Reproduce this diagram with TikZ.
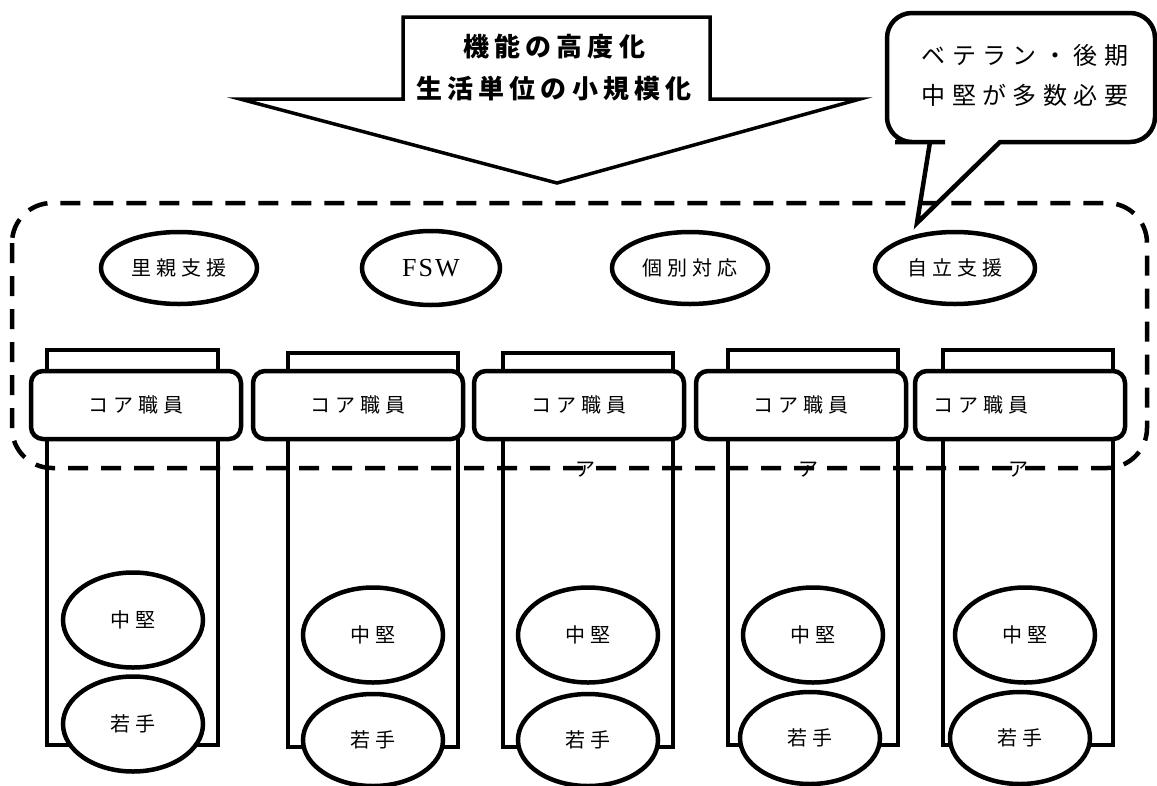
\documentclass[tikz,border=0pt]{standalone}
\usepackage{fontspec}
\setmainfont{Liberation Serif}
\newfontfamily\cjk{Noto Sans CJK JP}
\usetikzlibrary{shapes.geometric}
\tikzset{
  thick outline/.style={line width=4.5pt},
  jp/.style={font=\cjk\fontsize{20}{24}\selectfont\addfontfeatures{LetterSpace=25}},
  core/.style={draw, thick outline, rounded corners=12pt, fill=white, minimum width=210pt, minimum height=68pt, inner sep=0pt, jp},
  oval/.style={ellipse, draw, thick outline, fill=white, inner sep=0pt, jp},
  colbox/.style={draw, thick outline, fill=white},
  bigarrow/.style={draw, line width=3.5pt, fill=white},
  callout/.style={draw, line width=4.5pt, fill=white},
  region/.style={draw, line width=4.5pt, dash pattern=on 20pt off 13pt, rounded corners=40pt},
}
\begin{document}
\begin{tikzpicture}[x=1pt,y=-1pt]
\useasboundingbox (0,0) rectangle (1157,785);
% big arrow
\coordinate (atl) at (403,17);
\coordinate (atr) at (710,17);
\coordinate (asr) at (710,99);
\coordinate (awr) at (860,99);
\coordinate (ap) at (557,183);
\coordinate (awl) at (240,99);
\coordinate (asl) at (403,99);
\draw[bigarrow] (atl) -- (atr) -- (asr) -- (awr) -- (ap) -- (awl) -- (asl) -- cycle;
\node[align=center, font=\cjk\bfseries\fontsize{26}{42}\selectfont\addfontfeatures{LetterSpace=20}] (atext) at (554,68) {機能の高度化\\生活単位の小規模化};
% callout
\coordinate (ctip) at (917,223);
\draw[callout] (ctip) -- (1000,142) -- (1010,142) [rounded corners=25pt] -- (1155,142) -- (1155,13) -- (887,13) -- (887,142) -- (920,142) [sharp corners] -- (930,142) -- cycle;
\node[align=center, font=\cjk\fontsize{24}{40}\selectfont\addfontfeatures{LetterSpace=27}] (ctext) at (1025,75) {ベテラン・後期\\中堅が多数必要};
% columns
\draw[colbox] (47,350) rectangle (218,745);
\draw[colbox] (288,353) rectangle (458,747);
\draw[colbox] (503,353) rectangle (673,747);
\draw[colbox] (728,350) rectangle (898,745);
\draw[colbox] (943,350) rectangle (1113,745);
% core boxes
\node[core] (c1) at (136,405) {コア職員};
\node[core] (c2) at (358,405) {コア職員};
\node[core] (c3) at (579,405) {コア職員};
\node[core] (c4) at (801,405) {コア職員};
\node[core, text width=190pt, align=left] (c5) at (1020,405) {\hspace*{8pt}コア職員};
% bottom ovals
\node[oval, minimum width=140pt, minimum height=95pt] (m1) at (133,620) {中堅};
\node[oval, minimum width=140pt, minimum height=95pt] (y1) at (133,724) {若手};
\node[oval, minimum width=140pt, minimum height=95pt] (m2) at (373,635) {中堅};
\node[oval, minimum width=140pt, minimum height=92pt] (y2) at (373,740) {若手};
\node[oval, minimum width=140pt, minimum height=95pt] (m3) at (588,635) {中堅};
\node[oval, minimum width=140pt, minimum height=92pt] (y3) at (588,740) {若手};
\node[oval, minimum width=140pt, minimum height=95pt] (m4) at (813,635) {中堅};
\node[oval, minimum width=140pt, minimum height=92pt] (y4) at (810,738) {若手};
\node[oval, minimum width=140pt, minimum height=95pt] (m5) at (1025,635) {中堅};
\node[oval, minimum width=140pt, minimum height=92pt] (y5) at (1020,738) {若手};
% top ovals
\node[oval, minimum width=156pt, minimum height=72pt] (o1) at (179,268) {里親支援};
\node[oval, minimum width=138pt, minimum height=74pt, font=\fontsize{26}{30}\selectfont\addfontfeatures{LetterSpace=8}] (o2) at (431,268) {FSW};
\node[oval, minimum width=156pt, minimum height=72pt] (o3) at (690,268) {個別対応};
\node[oval, minimum width=160pt, minimum height=72pt] (o4) at (955,268) {自立支援};
% stray glyphs
\node[jp] (g1) at (585,470) {ア};
\node[jp] (g2) at (808,470) {ア};
\node[jp] (g3) at (1018,470) {ア};
% dashed region
\draw[region] (12,203) rectangle (1147,468);
\end{tikzpicture}
\end{document}
